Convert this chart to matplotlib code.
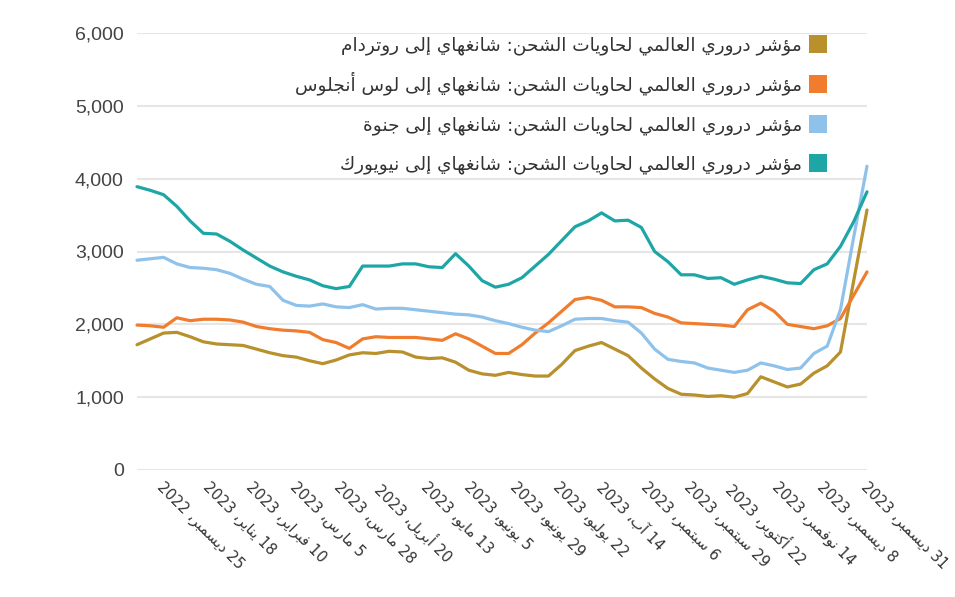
import numpy as np
import matplotlib
matplotlib.use('Agg')
import matplotlib.pyplot as plt
import matplotlib.dates as mdates
from matplotlib.patches import Rectangle
from matplotlib.transforms import ScaledTranslation

# weekly index readings (USD per 40ft), Thursdays from 15 Dec 2022
start_date = np.datetime64('2022-12-15')
end_date = np.datetime64('2024-01-05')
dates = np.arange(start_date, end_date, np.timedelta64(7, 'D'))

rotterdam = [1720, 1800, 1880, 1890, 1830, 1760, 1730, 1720, 1710, 1660,
             1610, 1570, 1550, 1500, 1460, 1510, 1580, 1610, 1600, 1630,
             1620, 1550, 1530, 1540, 1480, 1370, 1320, 1300, 1340, 1310,
             1290, 1290, 1450, 1640, 1700, 1750, 1660, 1570, 1400, 1250,
             1120, 1040, 1030, 1010, 1020, 1000, 1050, 1280, 1210, 1140,
             1180, 1330, 1430, 1620, 2600, 3570]
los_angeles = [1990, 1980, 1960, 2090, 2050, 2070, 2070, 2060, 2030, 1970,
               1940, 1920, 1910, 1890, 1790, 1750, 1670, 1800, 1830, 1820,
               1820, 1820, 1800, 1780, 1870, 1800, 1700, 1600, 1600, 1720,
               1880, 2020, 2180, 2340, 2370, 2330, 2240, 2240, 2230, 2150,
               2100, 2020, 2010, 2000, 1990, 1970, 2200, 2290, 2180, 2000,
               1970, 1940, 1980, 2080, 2400, 2720]
genoa = [2880, 2900, 2920, 2830, 2780, 2770, 2750, 2700, 2620, 2550,
         2520, 2330, 2260, 2250, 2280, 2240, 2230, 2270, 2210, 2220,
         2220, 2200, 2180, 2160, 2140, 2130, 2100, 2050, 2010, 1960,
         1920, 1900, 1980, 2070, 2080, 2080, 2050, 2030, 1880, 1660,
         1520, 1490, 1470, 1400, 1370, 1340, 1370, 1470, 1430, 1380,
         1400, 1600, 1700, 2200, 3200, 4170]
new_york = [3890, 3840, 3780, 3620, 3420, 3250, 3240, 3140, 3020, 2910,
            2800, 2720, 2660, 2610, 2530, 2490, 2520, 2800, 2800, 2800,
            2830, 2830, 2790, 2780, 2970, 2800, 2600, 2510, 2550, 2640,
            2800, 2960, 3150, 3340, 3420, 3530, 3420, 3430, 3330, 3000,
            2860, 2680, 2680, 2630, 2640, 2550, 2610, 2660, 2620, 2570,
            2560, 2750, 2830, 3070, 3410, 3820]

series_names = [
    'مؤشر دروري العالمي لحاويات الشحن: شانغهاي إلى روتردام',
    'مؤشر دروري العالمي لحاويات الشحن: شانغهاي إلى لوس أنجلوس',
    'مؤشر دروري العالمي لحاويات الشحن: شانغهاي إلى جنوة',
    'مؤشر دروري العالمي لحاويات الشحن: شانغهاي إلى نيويورك',
]
series_colors = ['#b8902c', '#f07d2e', '#8fc2ea', '#1ea6a6']

tick_dates = ['2022-12-25', '2023-01-18', '2023-02-10', '2023-03-05',
              '2023-03-28', '2023-04-20', '2023-05-13', '2023-06-05',
              '2023-06-29', '2023-07-22', '2023-08-14', '2023-09-06',
              '2023-09-29', '2023-10-22', '2023-11-14', '2023-12-08',
              '2023-12-31']
tick_labels = ['25 ديسمبر، 2022', '18 يناير، 2023', '10 فبراير، 2023',
               '5 مارس، 2023', '28 مارس، 2023', '20 أبريل، 2023',
               '13 مايو، 2023', '5 يونيو، 2023', '29 يونيو، 2023',
               '22 يوليو، 2023', '14 آب، 2023', '6 سبتمبر، 2023',
               '29 سبتمبر، 2023', '22 أكتوبر، 2023', '14 نوفمبر، 2023',
               '8 ديسمبر، 2023', '31 ديسمبر، 2023']
y_ticks = [0, 1000, 2000, 3000, 4000, 5000, 6000]

# matplotlib does no arabic shaping, so pick presentation forms by hand
DUAL = {'ئ': 0xFE89, 'ب': 0xFE8F, 'ت': 0xFE95, 'ث': 0xFE99, 'ج': 0xFE9D,
        'ح': 0xFEA1, 'خ': 0xFEA5, 'س': 0xFEB1, 'ش': 0xFEB5, 'ص': 0xFEB9,
        'ض': 0xFEBD, 'ط': 0xFEC1, 'ظ': 0xFEC5, 'ع': 0xFEC9, 'غ': 0xFECD,
        'ف': 0xFED1, 'ق': 0xFED5, 'ك': 0xFED9, 'ل': 0xFEDD, 'م': 0xFEE1,
        'ن': 0xFEE5, 'ه': 0xFEE9, 'ي': 0xFEF1}
RIGHT = {'آ': 0xFE81, 'أ': 0xFE83, 'ؤ': 0xFE85, 'إ': 0xFE87, 'ا': 0xFE8D,
         'ة': 0xFE93, 'د': 0xFEA9, 'ذ': 0xFEAB, 'ر': 0xFEAD, 'ز': 0xFEAF,
         'و': 0xFEED, 'ى': 0xFEEF}


def shape(word):
    out = []
    for i, c in enumerate(word):
        if c not in DUAL and c not in RIGHT:
            out.append(c)
            continue
        prev = word[i - 1] if i > 0 else ''
        nxt = word[i + 1] if i + 1 < len(word) else ''
        jp = prev in DUAL
        jn = c in DUAL and (nxt in DUAL or nxt in RIGHT)
        if c in RIGHT:
            out.append(chr(RIGHT[c] + (1 if jp else 0)))
        else:
            idx = 3 if (jp and jn) else 1 if jp else 2 if jn else 0
            out.append(chr(DUAL[c] + idx))
    return ''.join(out)


def rtl(text):
    toks = text.split(' ')
    vis = [t if t.isdigit() else shape(t)[::-1] for t in reversed(toks)]
    return ' '.join(vis)


plt.rcParams['font.family'] = ['DejaVu Sans']

W, H = 955, 597
fig = plt.figure(figsize=(W / 100, H / 100), dpi=100)
ax = fig.add_axes([137 / W, (H - 470) / H, 730 / W, (470 - 33) / H])

all_series = [rotterdam, los_angeles, genoa, new_york]
for vals, col in zip(all_series, series_colors):
    ax.plot(dates, vals, color=col, lw=2.3, solid_joinstyle='round',
            solid_capstyle='round', clip_on=False)

ax.set_xlim(dates[0], dates[-1])
ax.set_ylim(0, 6000)
ax.set_yticks(y_ticks)
ax.set_yticklabels(['{:,}'.format(v) for v in y_ticks], fontsize=14,
                   color='#444444', family='Liberation Sans')
ax.set_xticks(mdates.date2num(np.array(tick_dates, dtype='datetime64[D]')))
ax.set_xticklabels([])
ax.tick_params(axis='both', length=0)
ax.tick_params(axis='y', pad=9.5)
ax.grid(axis='y', color='#e6e6e6', lw=1.5)
ax.set_axisbelow(True)
for s in ax.spines.values():
    s.set_visible(False)

# rotated date labels hanging down-right from each tick
lab_tr = ax.get_xaxis_transform() + ScaledTranslation(0.09, -0.09,
                                                      fig.dpi_scale_trans)
for d, lab in zip(tick_dates, tick_labels):
    ax.text(mdates.date2num(np.datetime64(d)), 0, rtl(lab), transform=lab_tr,
            rotation=-45, rotation_mode='anchor', ha='left', va='top',
            fontsize=10.6, color='#333333')

# legend, right-to-left: text then colour square on the right
row_y = [44, 84, 124, 163]
for name, col, y in zip(series_names, series_colors, row_y):
    fig.text(802 / W, 1 - (y + 6) / H, rtl(name), ha='right', va='baseline',
             fontsize=13.3, color='#333333')
    fig.patches.append(Rectangle((809 / W, 1 - (y + 9) / H), 18 / W, 18 / H,
                                 transform=fig.transFigure, facecolor=col,
                                 edgecolor='none'))

fig.savefig('out.png', dpi=100, facecolor='white')
